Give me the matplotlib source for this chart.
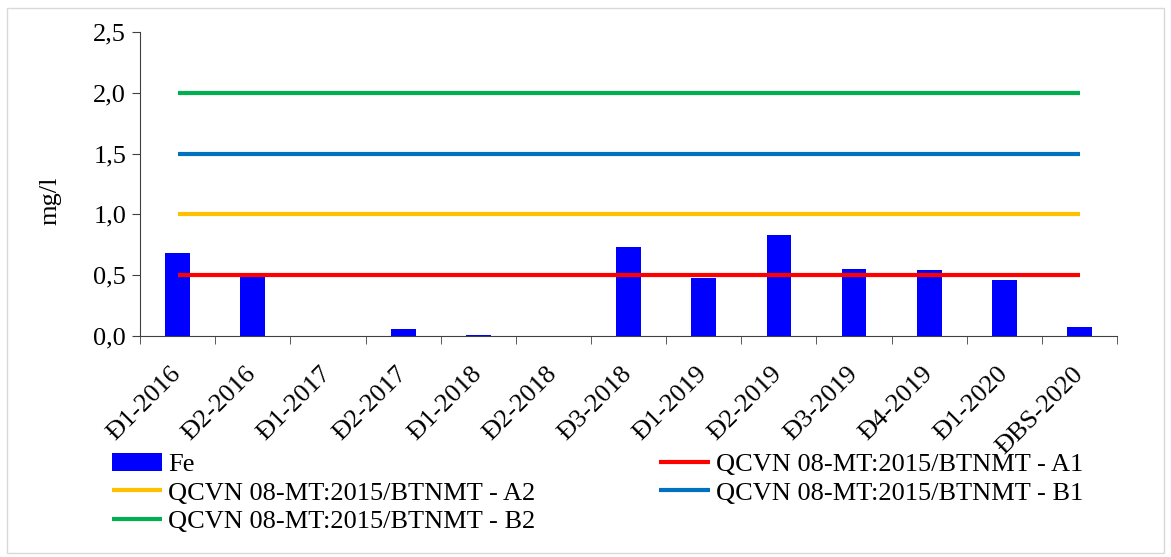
import numpy as np
import matplotlib.pyplot as plt
from matplotlib.patches import Rectangle

plt.rcParams['font.family'] = ['Liberation Serif', 'DejaVu Serif']

categories = ['Đ1-2016', 'Đ2-2016', 'Đ1-2017', 'Đ2-2017', 'Đ1-2018', 'Đ2-2018', 'Đ3-2018',
              'Đ1-2019', 'Đ2-2019', 'Đ3-2019', 'Đ4-2019', 'Đ1-2020', 'ĐBS-2020']
fe = [0.68, 0.50, 0.0, 0.06, 0.01, 0.0, 0.73, 0.48, 0.83, 0.55, 0.54, 0.46, 0.07]
limit_names = ['QCVN 08-MT:2015/BTNMT - A1', 'QCVN 08-MT:2015/BTNMT - A2',
               'QCVN 08-MT:2015/BTNMT - B1', 'QCVN 08-MT:2015/BTNMT - B2']
limit_values = [0.5, 1.0, 1.5, 2.0]
limit_colors = ['#FF0000', '#FFC000', '#0070C0', '#00B050']

fs = 19
fig = plt.figure(figsize=(11.71, 5.57), dpi=100)
ax = fig.add_axes([0.1196, 0.397, 0.8344, 0.5455])

x = np.arange(len(categories))
bars = ax.bar(x, fe, width=0.33, color='#0000FF', label='Fe', zorder=2)
lines = []
for name, val, col in zip(limit_names, limit_values, limit_colors):
    ln, = ax.plot([x[0], x[-1]], [val, val], color=col, lw=3, label=name, zorder=3,
                  solid_capstyle='butt')
    lines.append(ln)

ax.set_xlim(-0.5, len(categories) - 0.5)
ax.set_ylim(0, 2.5)
yt = np.arange(0, 2.51, 0.5)
ax.set_yticks(yt)
ax.set_yticklabels([f'{v:.1f}'.replace('.', ',') for v in yt], fontsize=fs)
ax.set_xticks(x)
ax.set_xticklabels(categories, fontsize=fs, rotation=45, ha='right', va='center',
                   rotation_mode='anchor')
ax.tick_params(axis='x', which='major', length=0, pad=25)
ax.set_xticks(np.arange(-0.5, len(categories), 1), minor=True)
ax.tick_params(axis='x', which='minor', length=6, color='#404040', direction='out')
ax.tick_params(axis='y', length=6, color='#404040', direction='out', pad=4)
ax.set_ylabel('mg/l', fontsize=fs)
ax.yaxis.set_label_coords(-0.081, 0.444)
for s in ['top', 'right']:
    ax.spines[s].set_visible(False)
for s in ['left', 'bottom']:
    ax.spines[s].set_color('#404040')

handles = [bars, lines[1], lines[3], lines[0], lines[2]]
labels = ['Fe', limit_names[1], limit_names[3], limit_names[0], limit_names[2]]
fig.legend(handles, labels, ncol=2, loc='upper left', bbox_to_anchor=(0.0956, 0.187),
           frameon=False, fontsize=fs, handlelength=1.9, handletextpad=0.23,
           columnspacing=4.7, labelspacing=0.18, borderaxespad=0, borderpad=0)

fig.patches.append(Rectangle((0.006, 0.007), 0.988, 0.978, transform=fig.transFigure,
                             fill=False, edgecolor='#D9D9D9', lw=1))

fig.savefig('out.png', dpi=100)
